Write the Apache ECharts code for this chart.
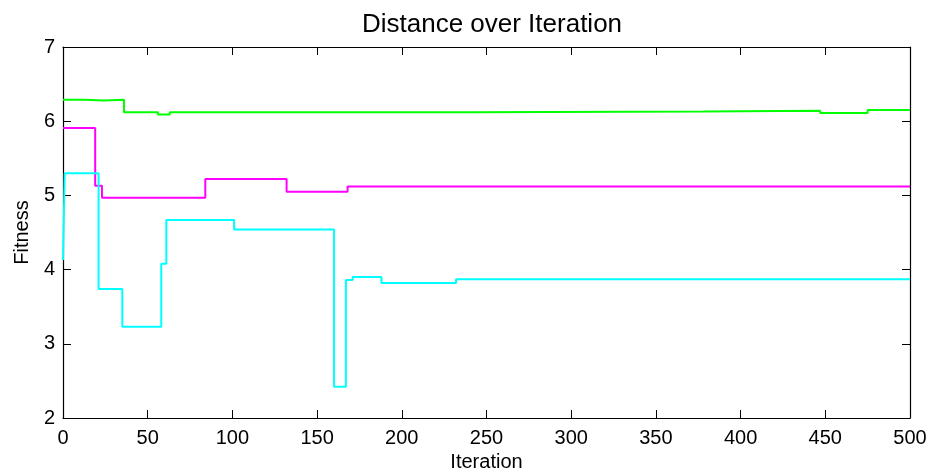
<!DOCTYPE html>
<html>
<head>
<meta charset="utf-8">
<script src="https://cdn.jsdelivr.net/npm/echarts@6/dist/echarts.min.js"></script>
<style>
  html, body { margin: 0; padding: 0; background: #fff; }
  #chart { width: 935px; height: 474px; }
</style>
</head>
<body>
<div id="chart"></div>
<script>
// step breakpoints: [iteration, fitness], value holds until the next breakpoint
const greenSteps = [[0, 6.29], [13, 6.28], [24, 6.29], [36, 6.12], [56, 6.09], [63, 6.12], [241, 6.13], [378, 6.14], [447, 6.11], [475, 6.15], [500, 6.15]];
const magentaSteps = [[0, 5.91], [19, 5.13], [23, 4.97], [84, 5.22], [132, 5.05], [168, 5.12], [500, 5.12]];
const cyanSteps = [[0, 4.13], [1, 5.30], [21, 3.74], [35, 3.23], [58, 4.08], [61, 4.67], [101, 4.54], [160, 2.42], [167, 3.86], [171, 3.90], [188, 3.82], [232, 3.87], [500, 3.87]];

const seriesColors = ['#00ff00', '#ff00ff', '#00ffff'];
const font = 'Liberation Sans, Arial, sans-serif';

const chart = echarts.init(document.getElementById('chart'));

function line(data, color) {
  return {
    type: 'line',
    step: 'end',
    data: data,
    showSymbol: false,
    animation: false,
    lineStyle: { color: color, width: 2 },
    itemStyle: { color: color }
  };
}

function axisLine() {
  return { show: true, onZero: false, lineStyle: { color: '#000', width: 1.2 } };
}
function tick() {
  return { show: true, inside: true, length: 8, lineStyle: { color: '#000', width: 1 } };
}

chart.setOption({
  backgroundColor: '#fff',
  title: {
    text: 'Distance over Iteration',
    left: 487,
    textAlign: 'center',
    top: 7,
    textStyle: { fontFamily: font, fontSize: 26, fontWeight: 'normal', color: '#000' }
  },
  grid: { left: 63, right: 25, top: 47, bottom: 56, outerBoundsMode: 'none', containLabel: false },
  xAxis: [{
    type: 'value',
    position: 'bottom',
    min: 0, max: 500, interval: 50,
    name: 'Iteration',
    nameLocation: 'middle',
    nameGap: 34,
    nameTextStyle: { fontFamily: font, fontSize: 20, color: '#000' },
    axisLine: axisLine(),
    axisTick: tick(),
    splitLine: { show: false },
    axisLabel: { fontFamily: font, fontSize: 20, color: '#000', margin: 10 }
  }, {
    type: 'value', position: 'top',
    min: 0, max: 500, interval: 50,
    axisLine: axisLine(), axisTick: tick(),
    splitLine: { show: false }, axisLabel: { show: false }
  }],
  yAxis: [{
    type: 'value',
    position: 'left',
    min: 2, max: 7, interval: 1,
    name: 'Fitness',
    nameLocation: 'middle',
    nameGap: 29,
    nameTextStyle: { fontFamily: font, fontSize: 20, color: '#000' },
    axisLine: axisLine(),
    axisTick: tick(),
    splitLine: { show: false },
    axisLabel: { fontFamily: font, fontSize: 20, color: '#000', margin: 8 }
  }, {
    type: 'value', position: 'right',
    min: 2, max: 7, interval: 1,
    axisLine: axisLine(), axisTick: tick(),
    splitLine: { show: false }, axisLabel: { show: false }
  }],
  series: [
    line(greenSteps, seriesColors[0]),
    line(magentaSteps, seriesColors[1]),
    line(cyanSteps, seriesColors[2])
  ]
});
</script>
</body>
</html>
